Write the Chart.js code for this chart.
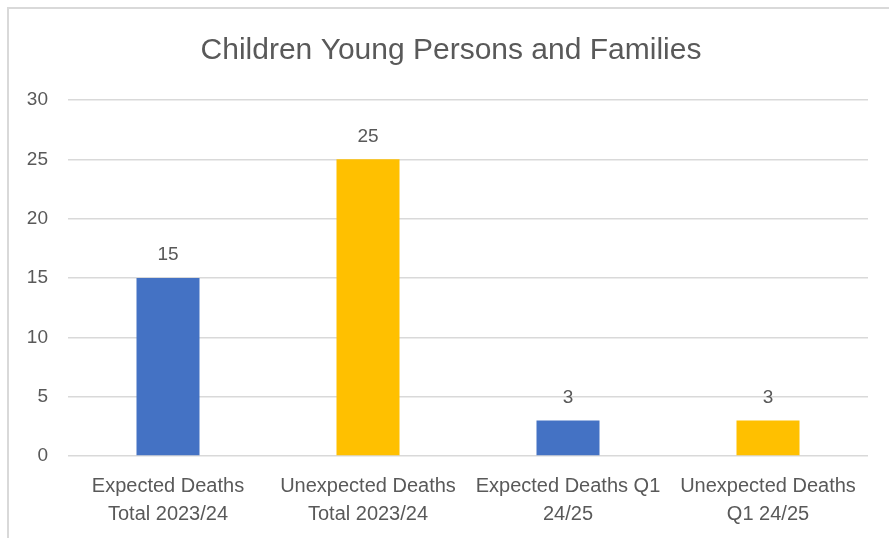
<!DOCTYPE html>
<html>
<head>
<meta charset="utf-8">
<script src="https://cdn.jsdelivr.net/npm/chart.js@4/dist/chart.umd.min.js"></script>
<style>
  html, body { margin: 0; padding: 0; background: #fff; overflow: hidden; }
  #frame { position: absolute; left: 7px; top: 7px; width: 920px; height: 600px; border: 2px solid #d9d9d9; }
  #myChart { position: absolute; left: 0; top: 0; }
</style>
</head>
<body>
<div id="frame"></div>
<canvas id="myChart" width="889" height="538"></canvas>
<script>
/* data */
const categories = [
  ["Expected Deaths", "Total 2023/24"],
  ["Unexpected Deaths", "Total 2023/24"],
  ["Expected Deaths Q1", "24/25"],
  ["Unexpected Deaths", "Q1 24/25"],
];
const deaths = [15, 25, 3, 3];
const barColors = ["#4472C4", "#FFC000", "#4472C4", "#FFC000"];
const yTicks = [0, 5, 10, 15, 20, 25, 30];

const textGrey = "#595959";
const fontName = "'Liberation Sans', Arial, sans-serif";

// numbers above the bars
const valueLabels = {
  id: "valueLabels",
  afterDatasetsDraw(chart) {
    const ctx = chart.ctx;
    const meta = chart.getDatasetMeta(0);
    ctx.save();
    ctx.font = "19px " + fontName;
    ctx.fillStyle = textGrey;
    ctx.textAlign = "center";
    ctx.textBaseline = "middle";
    meta.data.forEach((bar, i) => {
      ctx.fillText(chart.data.datasets[0].data[i], bar.x, bar.y - 23);
    });
    ctx.restore();
  }
};

// title sits centred on the frame, not on the plot
const shiftTitle = {
  id: "shiftTitle",
  afterLayout(chart) {
    if (chart.titleBlock) {
      chart.titleBlock.left = 34;
      chart.titleBlock.right = 868;
    }
  }
};

const ctx1 = document.getElementById("myChart").getContext("2d");

const myChart1 = new Chart(ctx1, {
  type: "bar",
  data: {
    labels: categories,
    datasets: [{
      data: deaths,
      backgroundColor: barColors,
      barPercentage: 0.315,
      categoryPercentage: 1,
    }],
  },
  options: {
    responsive: false,
    animation: false,
    layout: { padding: { top: 0, right: 21, left: 0, bottom: 0 } },
    plugins: {
      legend: { display: false },
      tooltip: { enabled: false },
      title: {
        display: true,
        text: "Children Young Persons and Families",
        color: textGrey,
        font: { family: fontName, size: 30, weight: "normal", lineHeight: 1.2 },
        padding: { top: 33, bottom: 31 },
      },
    },
    scales: {
      x: {
        grid: { display: false },
        border: { display: false },
        ticks: {
          color: textGrey,
          font: { family: fontName, size: 20, lineHeight: 1.4 },
          padding: 8,
          maxRotation: 0,
          autoSkip: false,
        },
        afterFit(scale) { scale.height = 82; },
      },
      y: {
        min: 0,
        max: 30,
        afterBuildTicks(scale) { scale.ticks = yTicks.map(v => ({ value: v })); },
        grid: { color: "#d9d9d9", lineWidth: 1.5, drawTicks: false },
        border: { display: false },
        ticks: {
          color: textGrey,
          font: { family: fontName, size: 19 },
          padding: 20,
        },
        afterFit(scale) { scale.width = 68; },
      },
    },
  },
  plugins: [valueLabels, shiftTitle],
});
</script>
</body>
</html>
